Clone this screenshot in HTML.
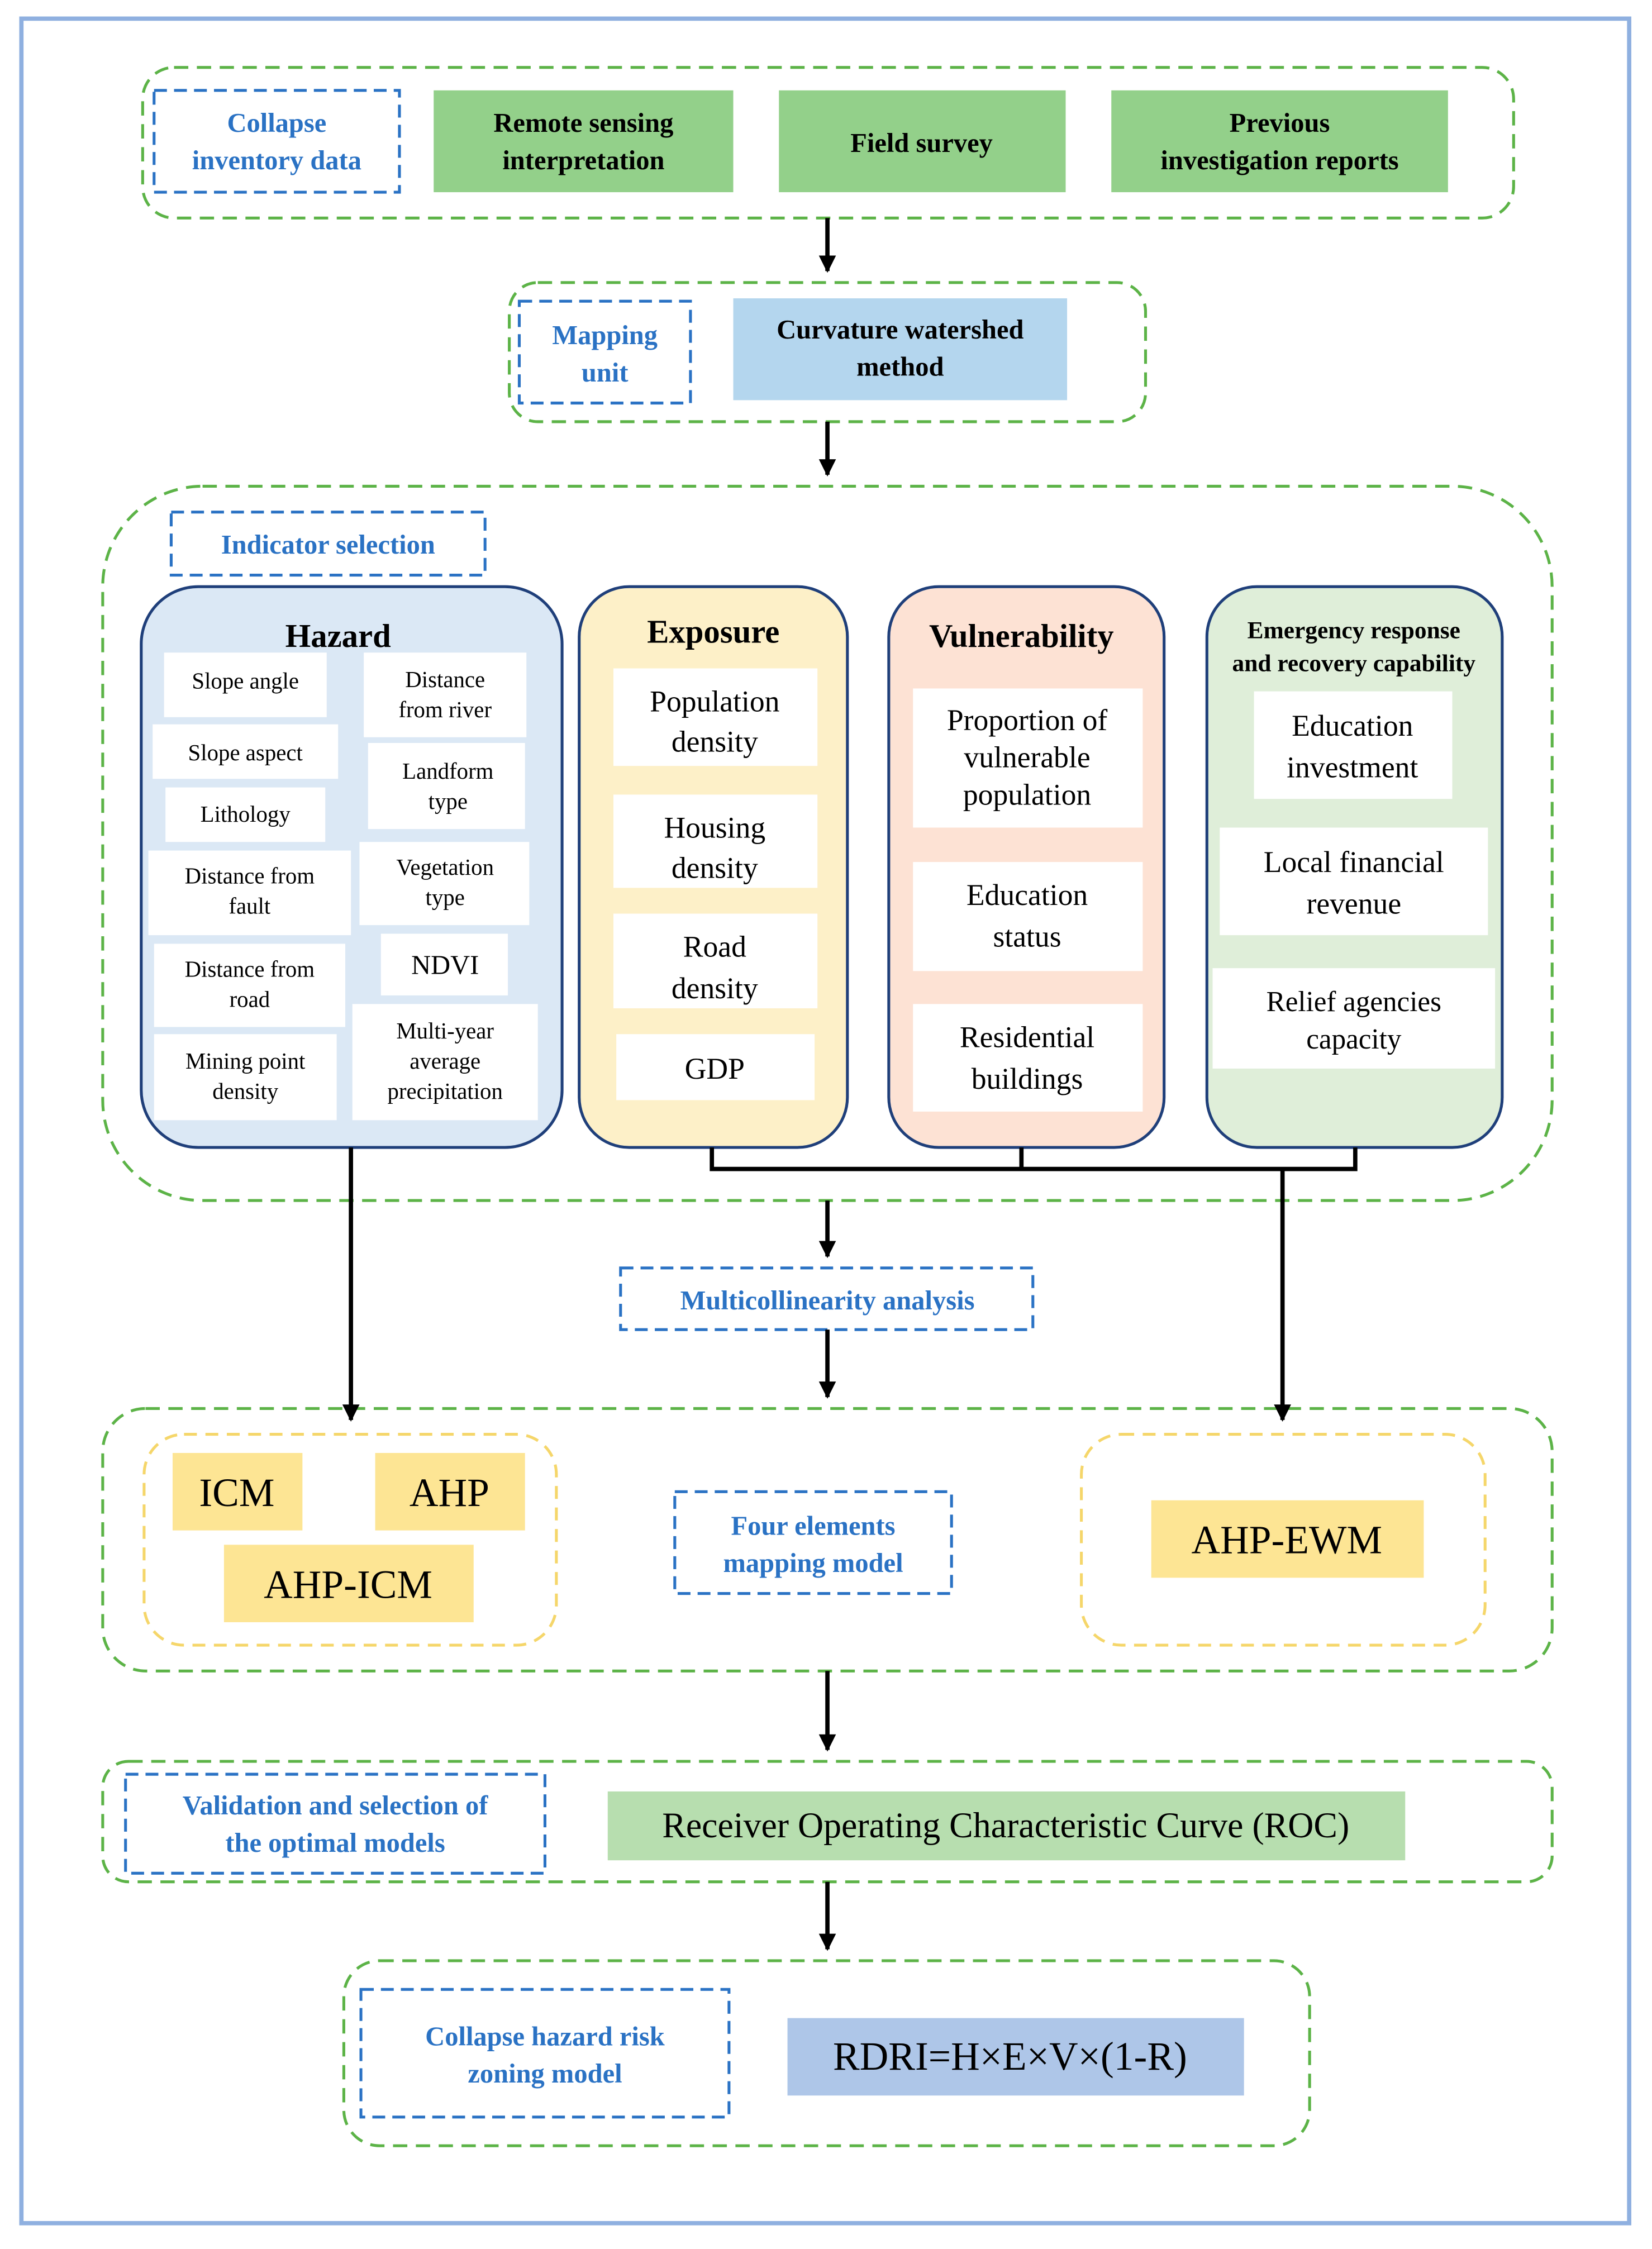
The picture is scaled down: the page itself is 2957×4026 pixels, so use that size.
<!DOCTYPE html>
<html><head><meta charset="utf-8">
<style>
html,body{margin:0;padding:0;background:#fff;}
svg{display:block;font-family:"Liberation Serif",serif;}
text{font-family:"Liberation Serif",serif;}
.bl{fill:#2a72c4;font-weight:bold;font-size:19px;font-family:"Liberation Serif",serif;}
.bk{fill:#000;font-weight:bold;font-size:19px;font-family:"Liberation Serif",serif;}
.h{font-size:16px;fill:#000;font-family:"Liberation Serif",serif;}
.m{font-size:21px;fill:#000;font-family:"Liberation Serif",serif;}
.t{font-size:23px;font-weight:bold;fill:#000;font-family:"Liberation Serif",serif;}
.big{font-size:28px;fill:#000;font-family:"Liberation Serif",serif;}
</style></head><body>
<svg width="2957" height="4026" viewBox="0 0 1158 1568" preserveAspectRatio="none" xmlns="http://www.w3.org/2000/svg" font-family="Liberation Serif, serif">
<defs>
<marker id="b" viewBox="0 0 10 10" markerWidth="12" markerHeight="12" refX="9" refY="5" orient="auto" markerUnits="userSpaceOnUse">
<path d="M0,0 L10,5 L0,10 z" fill="#000"/></marker>
</defs>
<rect x="15" y="13" width="1127" height="1537" fill="none" stroke="#8fb0e0" stroke-width="3"/>

<g fill="none" stroke="#5cb347" stroke-width="2" stroke-dasharray="10,6">
<rect x="100" y="47" width="961" height="105" rx="22"/>
<rect x="357" y="197" width="446" height="97" rx="20"/>
<rect x="72" y="339" width="1016" height="498" rx="70"/>
<rect x="72" y="982" width="1016" height="183" rx="30"/>
<rect x="72" y="1228" width="1016" height="84" rx="18"/>
<rect x="241" y="1367" width="677" height="129" rx="25"/>
</g>
<g fill="none" stroke="#2a72c4" stroke-width="2" stroke-dasharray="9,5">
<rect x="108" y="63" width="172" height="71"/>
<rect x="364" y="210" width="120" height="71"/>
<rect x="120" y="357" width="220" height="44"/>
<rect x="435" y="884" width="289" height="43"/>
<rect x="473" y="1040" width="194" height="71"/>
<rect x="88" y="1237" width="294" height="69"/>
<rect x="253" y="1387" width="258" height="89"/>
</g>
<g fill="none" stroke="#f5d66a" stroke-width="2" stroke-dasharray="9,6">
<rect x="101" y="1000" width="289" height="147" rx="28"/>
<rect x="758" y="1000" width="283" height="147" rx="28"/>
</g>

<g fill="#93d08a">
<rect x="304" y="63" width="210" height="71"/>
<rect x="546" y="63" width="201" height="71"/>
<rect x="779" y="63" width="236" height="71"/>
</g>
<rect x="514" y="208" width="234" height="71" fill="#b4d6ee"/>
<rect x="426" y="1249" width="559" height="48" fill="#b7deaf"/>
<rect x="552" y="1407" width="320" height="54" fill="#aec6e8"/>
<g fill="#fde594">
<rect x="121" y="1013" width="91" height="54"/>
<rect x="263" y="1013" width="105" height="54"/>
<rect x="157" y="1077" width="175" height="54"/>
<rect x="807" y="1046" width="191" height="54"/>
</g>

<g stroke="#1f3f7a" stroke-width="2">
<rect x="99" y="409" width="295" height="391" rx="40" fill="#dbe8f5"/>
<rect x="406" y="409" width="188" height="391" rx="35" fill="#fdf0c8"/>
<rect x="623" y="409" width="193" height="391" rx="35" fill="#fde2d4"/>
<rect x="846" y="409" width="207" height="391" rx="35" fill="#dfeed9"/>
</g>
<g fill="#fff">
<rect x="115" y="455" width="114" height="45"/>
<rect x="255" y="455" width="114" height="59"/>
<rect x="107" y="505" width="130" height="38"/>
<rect x="258" y="518" width="110" height="60"/>
<rect x="116" y="549" width="112" height="38"/>
<rect x="252" y="587" width="119" height="58"/>
<rect x="104" y="593" width="142" height="59"/>
<rect x="267" y="651" width="89" height="43"/>
<rect x="108" y="658" width="134" height="58"/>
<rect x="247" y="700" width="130" height="81"/>
<rect x="108" y="721" width="128" height="60"/>
<rect x="430" y="466" width="143" height="68"/>
<rect x="430" y="554" width="143" height="65"/>
<rect x="430" y="637" width="143" height="66"/>
<rect x="432" y="721" width="139" height="46"/>
<rect x="640" y="480" width="161" height="97"/>
<rect x="640" y="601" width="161" height="76"/>
<rect x="640" y="700" width="161" height="75"/>
<rect x="879" y="482" width="139" height="75"/>
<rect x="855" y="577" width="188" height="75"/>
<rect x="850" y="675" width="198" height="70"/>
</g>

<g stroke="#000" stroke-width="3" fill="none">
<line x1="580" y1="152" x2="580" y2="189" marker-end="url(#b)"/>
<line x1="580" y1="294" x2="580" y2="331" marker-end="url(#b)"/>
<polyline points="499,800 499,815 950,815 950,800"/>
<line x1="716" y1="800" x2="716" y2="815"/>
<line x1="580" y1="837" x2="580" y2="876" marker-end="url(#b)"/>
<line x1="899" y1="815" x2="899" y2="990" marker-end="url(#b)"/>
<line x1="246" y1="800" x2="246" y2="990" marker-end="url(#b)"/>
<line x1="580" y1="927" x2="580" y2="974" marker-end="url(#b)"/>
<line x1="580" y1="1165" x2="580" y2="1220" marker-end="url(#b)"/>
<line x1="580" y1="1312" x2="580" y2="1359" marker-end="url(#b)"/>
</g>

<g text-anchor="middle">
<text class="bl" x="194" y="92">Collapse</text><text class="bl" x="194" y="118">inventory data</text>
<text class="bk" x="409" y="92">Remote sensing</text><text class="bk" x="409" y="118">interpretation</text>
<text class="bk" x="646" y="106">Field survey</text>
<text class="bk" x="897" y="92">Previous</text><text class="bk" x="897" y="118">investigation reports</text>
<text class="bl" x="424" y="240">Mapping</text><text class="bl" x="424" y="266">unit</text>
<text class="bk" x="631" y="236">Curvature watershed</text><text class="bk" x="631" y="262">method</text>
<text class="bl" x="230" y="386">Indicator selection</text>

<text class="t" x="237" y="451">Hazard</text>
<text class="t" x="500" y="448">Exposure</text>
<text class="t" x="716" y="451">Vulnerability</text>
<text x="949" y="445" style="font-size:17px;font-weight:bold;font-family:'Liberation Serif',serif">Emergency response</text>
<text x="949" y="468" style="font-size:17px;font-weight:bold;font-family:'Liberation Serif',serif">and recovery capability</text>

<g class="h">
<text class="h" x="172" y="480">Slope angle</text>
<text class="h" x="312" y="479">Distance</text><text class="h" x="312" y="500">from river</text>
<text class="h" x="172" y="530">Slope aspect</text>
<text class="h" x="314" y="543">Landform</text><text class="h" x="314" y="564">type</text>
<text class="h" x="172" y="573">Lithology</text>
<text class="h" x="312" y="610">Vegetation</text><text class="h" x="312" y="631">type</text>
<text class="h" x="175" y="616">Distance from</text><text class="h" x="175" y="637">fault</text>
<text class="h" x="312" y="679" style="font-size:19px">NDVI</text>
<text class="h" x="175" y="681">Distance from</text><text class="h" x="175" y="702">road</text>
<text class="h" x="312" y="724">Multi-year</text><text class="h" x="312" y="745">average</text><text class="h" x="312" y="766">precipitation</text>
<text class="h" x="172" y="745">Mining point</text><text class="h" x="172" y="766">density</text>
</g>
<g>
<text class="m" x="501" y="496">Population</text><text class="m" x="501" y="524">density</text>
<text class="m" x="501" y="584">Housing</text><text class="m" x="501" y="612">density</text>
<text class="m" x="501" y="667">Road</text><text class="m" x="501" y="696">density</text>
<text class="m" x="501" y="752">GDP</text>
<text class="m" x="720" y="509">Proportion of</text><text class="m" x="720" y="535">vulnerable</text><text class="m" x="720" y="561">population</text>
<text class="m" x="720" y="631">Education</text><text class="m" x="720" y="660">status</text>
<text class="m" x="720" y="730">Residential</text><text class="m" x="720" y="759">buildings</text>
<text class="m" x="948" y="513">Education</text><text class="m" x="948" y="542">investment</text>
<text class="m" x="949" y="608">Local financial</text><text class="m" x="949" y="637">revenue</text>
<text class="m" x="949" y="705" style="font-size:20px">Relief agencies</text><text class="m" x="949" y="731" style="font-size:20px">capacity</text>
</g>

<text class="bl" x="580" y="913">Multicollinearity analysis</text>
<text class="big" x="166" y="1050">ICM</text>
<text class="big" x="315" y="1050">AHP</text>
<text class="big" x="244" y="1114">AHP-ICM</text>
<text class="bl" x="570" y="1070">Four elements</text><text class="bl" x="570" y="1096">mapping model</text>
<text class="big" x="902" y="1083">AHP-EWM</text>
<text class="bl" x="235" y="1265">Validation and selection of</text><text class="bl" x="235" y="1291">the optimal models</text>
<text class="big" x="705" y="1281" style="font-size:25px">Receiver Operating Characteristic Curve (ROC)</text>
<text class="bl" x="382" y="1426">Collapse hazard risk</text><text class="bl" x="382" y="1452">zoning model</text>
<text class="big" x="708" y="1443">RDRI=H×E×V×(1-R)</text>
</g>
</svg>
</body></html>
